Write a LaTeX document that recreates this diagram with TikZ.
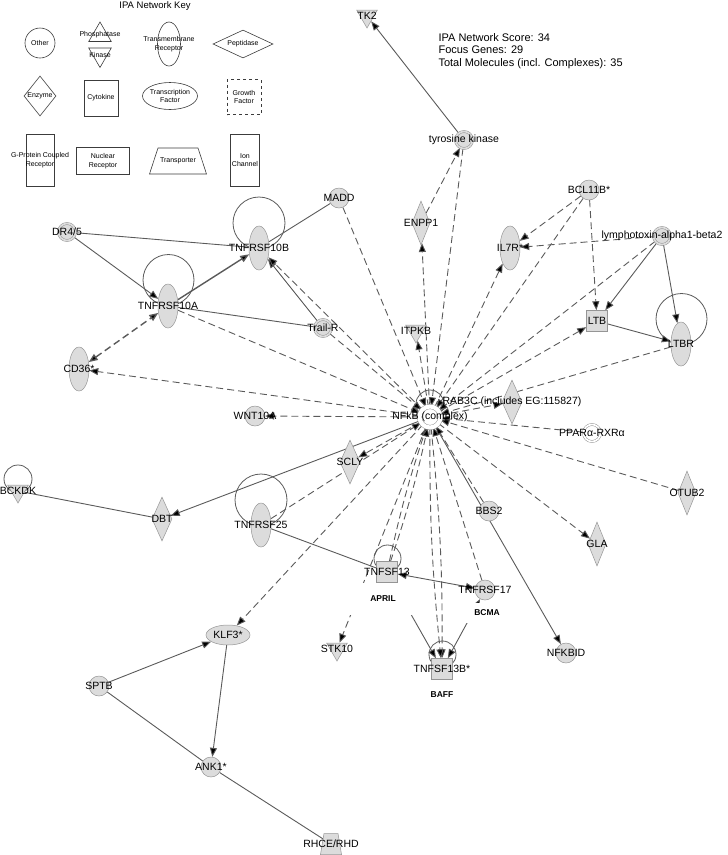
\documentclass[tikz,border=0pt]{standalone}
\usepackage{fontspec}
\setmainfont{Liberation Sans}
\usepackage{tikz}
\usetikzlibrary{shapes.geometric, arrows.meta}

\definecolor{genefill}{HTML}{DCDCDC}
\definecolor{geneline}{HTML}{959595}
\definecolor{linkcol}{HTML}{5A5A5A}
\definecolor{keyline}{HTML}{3C3C3C}

\pgfdeclarelayer{background}
\pgfsetlayers{background,main}

\newcommand{\genefont}{\fontsize{10.5}{12.5}\selectfont}
\newcommand{\keyfont}{\fontsize{7}{8.5}\selectfont}

\tikzset{
  gene/.style={draw=geneline, fill=genefill, line width=0.5pt, inner sep=0pt},
  nm/.style={label={[font=\genefont, inner sep=0pt]center:{#1}}},
  other/.style={gene, circle, minimum size=20pt},
  cplx/.style={gene, circle, minimum size=17pt, double=genefill, double distance=1.6pt},
  cplxw/.style={gene, fill=white, circle, minimum size=17pt, double=white, double distance=1.6pt},
  tmr/.style={gene, ellipse, minimum width=20pt, minimum height=44pt},
  tfac/.style={gene, ellipse, minimum width=44pt, minimum height=20pt},
  enz/.style={gene, diamond, minimum width=20pt, minimum height=44pt},
  kin/.style={gene, regular polygon, regular polygon sides=3, shape border rotate=180, minimum size=24pt},
  cyto/.style={gene, rectangle, minimum size=21pt},
  transp/.style={gene, inner sep=1pt, trapezium, trapezium stretches=true, trapezium left angle=76,
                 trapezium right angle=76, minimum width=21pt, minimum height=21pt},
  keyshape/.style={draw=keyline, line width=0.6pt, inner sep=0pt},
  klbl/.style={font=\keyfont, align=center, inner sep=0pt},
  tag/.style={fill=white, font=\fontsize{8.5}{9}\selectfont\bfseries, inner sep=0pt},
  rel/.style={draw=linkcol, line width=0.9pt},
  ind/.style={rel, dash pattern=on 7pt off 4pt},
  selfloop/.style={draw=linkcol, line width=0.8pt}
}

\begin{document}
\begin{tikzpicture}[x=1pt, y=-1pt, >={Triangle[length=9pt,width=7pt]}]
  \useasboundingbox (0,0) rectangle (728,855);

  % network key
  \node[font=\fontsize{9.5}{10}\selectfont] (keytitle) at (155,6) {IPA Network Key};
  \node[keyshape, circle, minimum size=30pt, label={[klbl]center:Other}] (kother) at (40,43) {};
  \node[keyshape, regular polygon, regular polygon sides=3, minimum size=26pt,
        label={[klbl]center:Phosphatase}] (kphos) at (100,35) {};
  \node[keyshape, regular polygon, regular polygon sides=3, shape border rotate=180, minimum size=26pt,
        label={[klbl]center:Kinase}] (kkin) at (100,54.5) {};
  \node[keyshape, ellipse, minimum width=23pt, minimum height=44pt,
        label={[klbl]center:Transmembrane\\Receptor}] (ktmr) at (169,44) {};
  \node[keyshape, diamond, minimum width=60pt, minimum height=28pt,
        label={[klbl]center:Peptidase}] (kpep) at (243,44) {};
  \node[keyshape, diamond, minimum width=32pt, minimum height=40pt,
        label={[klbl]center:Enzyme}] (kenz) at (40,96) {};
  \node[keyshape, minimum width=34pt, minimum height=36pt,
        label={[klbl]center:Cytokine}] (kcyto) at (101,98) {};
  \node[keyshape, ellipse, minimum width=55pt, minimum height=27pt,
        label={[klbl]center:Transcription\\Factor}] (ktf) at (170,96) {};
  \node[keyshape, dashed, minimum width=34pt, minimum height=35pt,
        label={[klbl]center:Growth\\Factor}] (kgf) at (244,97) {};
  \node[keyshape, minimum width=28pt, minimum height=52pt,
        label={[klbl]center:G-Protein Coupled\\Receptor}] (kgpcr) at (40,160) {};
  \node[keyshape, minimum width=53pt, minimum height=27pt,
        label={[klbl]center:Nuclear\\Receptor}] (knr) at (103,161) {};
  \node[keyshape, inner sep=1pt, trapezium, trapezium stretches=true, trapezium left angle=78,
        trapezium right angle=78, minimum width=57pt, minimum height=26pt,
        label={[klbl]center:Transporter}] (ktrans) at (178,161) {};
  \node[keyshape, minimum width=29pt, minimum height=52pt,
        label={[klbl]center:Ion\\Channel}] (kion) at (245,160) {};

  \node[font=\fontsize{11}{12.5}\selectfont, align=left, anchor=west] (score) at (435,51)
    {IPA Network Score: 34\\Focus Genes: 29\\Total Molecules (incl. Complexes): 35};

  % molecules
  \node[kin, nm=TK2] (tk2) at (367,16) {};
  \node[cplx, nm={tyrosine kinase}] (tyrk) at (464,140) {};
  \node[enz, minimum width=18pt, nm=ENPP1] (enpp1) at (421,223) {};
  \node[other, nm=MADD] (madd) at (339,198) {};
  \node[cplx, nm=DR4/5] (dr45) at (67,232) {};
  \node[tmr, nm=TNFRSF10B] (tnfrsf10b) at (259,248) {};
  \node[other, nm=BCL11B*] (bcl11b) at (589,190) {};
  \node[tmr, nm=IL7R*] (il7r) at (510,248) {};
  \node[cplx, nm=lymphotoxin-alpha1-beta2] (ltab) at (662,236) {};
  \node[tmr, nm=TNFRSF10A] (tnfrsf10a) at (168,306) {};
  \node[cyto, nm=LTB] (ltb) at (597,321) {};
  \node[cplx, nm=Trail-R] (trailr) at (323,328) {};
  \node[kin, nm=ITPKB] (itpkb) at (416,331) {};
  \node[tmr, nm=LTBR] (ltbr) at (681,344) {};
  \node[tmr, nm=CD36*] (cd36) at (79,369) {};
  \node[enz, nm={RAB3C (includes EG:115827)}] (rab3c) at (512,402) {};
  \node[cplxw, minimum size=21pt, double distance=4pt, nm={NFkB (complex)}] (nfkb) at (430,417) {};
  \node[other, nm=WNT10A] (wnt10a) at (255,416) {};
  \node[cplxw, nm=PPARα-RXRα] (ppar) at (592,433) {};
  \node[enz, nm=SCLY] (scly) at (350,462) {};
  \node[kin, nm=BCKDK] (bckdk) at (18,491) {};
  \node[enz, minimum width=18pt, nm=OTUB2] (otub2) at (687,493) {};
  \node[other, nm=BBS2] (bbs2) at (489,511) {};
  \node[enz, nm=DBT] (dbt) at (162,519) {};
  \node[tmr, nm=TNFRSF25] (tnfrsf25) at (261,525) {};
  \node[enz, minimum width=18pt, nm=GLA] (gla) at (597,544) {};
  \node[cyto, nm=TNFSF13] (tnfsf13) at (387,572) {};
  \node[other, nm=TNFRSF17] (tnfrsf17) at (485,590) {};
  \node[kin, nm=STK10] (stk10) at (337,649) {};
  \node[cyto, nm=TNFSF13B*] (tnfsf13b) at (442,669) {};
  \node[other, nm=NFKBID] (nfkbid) at (566,653) {};
  \node[tfac, nm=KLF3*] (klf3) at (228,635) {};
  \node[other, nm=SPTB] (sptb) at (99,686) {};
  \node[other, nm=ANK1*] (ank1) at (211,767) {};
  \node[transp, nm=RHCE/RHD] (rhce) at (331,844) {};

  \node[tag, minimum width=66pt, minimum height=32pt] (april) at (383,599) {APRIL};
  \node[tag, minimum width=62pt, minimum height=20pt] (bcma) at (487,613) {BCMA};
  \node[tag] (baff) at (442,695) {BAFF};

  \begin{pgfonlayer}{background}
    % self loops
    \foreach \x/\y/\r in {259/223/26, 168.5/280/25.5, 681.5/319/25.5, 261/500/26,
                          18/479/14, 387.5/558.5/13.5, 442.5/654.5/13.5, 430/404/14}
      \draw[selfloop] (\x,\y) circle [radius=\r pt];

    \path[rel]
      (dr45) edge (tnfrsf10b)
      (madd) edge (tnfrsf10b)
      (trailr) edge (tnfrsf10a)
      (bckdk) edge (dbt)
      (tnfrsf25) edge (tnfsf13)
      (sptb) edge (ank1)
      (ank1) edge (rhce);
    \path[rel,->]
      (dr45) edge (tnfrsf10a)
      (tnfrsf10a) edge [line width=1.4pt] (tnfrsf10b)
      (trailr) edge (tnfrsf10b)
      (tyrk) edge (tk2)
      (ltab) edge (ltb)
      (ltab) edge (ltbr)
      (ltb) edge (ltbr)
      (nfkb) edge (dbt)
      (tnfsf13) edge (tnfsf13b)
      (nfkb) edge (nfkbid)
      (klf3) edge (ank1)
      (sptb) edge (klf3);
    \path[rel,<->]
      (tnfrsf17) edge (tnfsf13)
      (tnfrsf17) edge (tnfsf13b);

    % links around NFkB
    \path[ind,->]
      (nfkb) edge (cd36)
      (nfkb) edge (wnt10a)
      (cd36) edge [<->, line width=1.4pt] (tnfrsf10a)
      (tnfrsf10a) edge (nfkb)
      (nfkb) edge (tnfrsf10b)
      (trailr) edge (nfkb)
      (madd) edge (nfkb)
      (nfkb) edge (enpp1)
      (nfkb) edge (itpkb)
      (enpp1) edge (tyrk)
      (tyrk) edge (nfkb)
      (nfkb) edge (il7r)
      (bcl11b) edge (il7r)
      (bcl11b) edge (ltb)
      (bcl11b) edge (nfkb)
      (ltab) edge (il7r)
      (ltab) edge (nfkb)
      (nfkb) edge (ltb)
      (ltbr) edge (nfkb)
      (nfkb) edge (rab3c)
      (ppar) edge (nfkb)
      (otub2) edge (nfkb)
      (nfkb) edge (gla)
      (bbs2) edge (nfkb)
      (tnfrsf17) edge (nfkb)
      (nfkb) edge [bend left=3] (tnfsf13b)
      (nfkb) edge [bend right=3] (tnfsf13b)
      (tnfsf13) edge [bend left=3] (nfkb)
      (tnfsf13) edge [bend right=3] (nfkb)
      (nfkb) edge (stk10)
      (nfkb) edge (klf3)
      (nfkb) edge (scly)
      (tnfrsf25) edge (nfkb);
  \end{pgfonlayer}
\end{tikzpicture}
\end{document}
